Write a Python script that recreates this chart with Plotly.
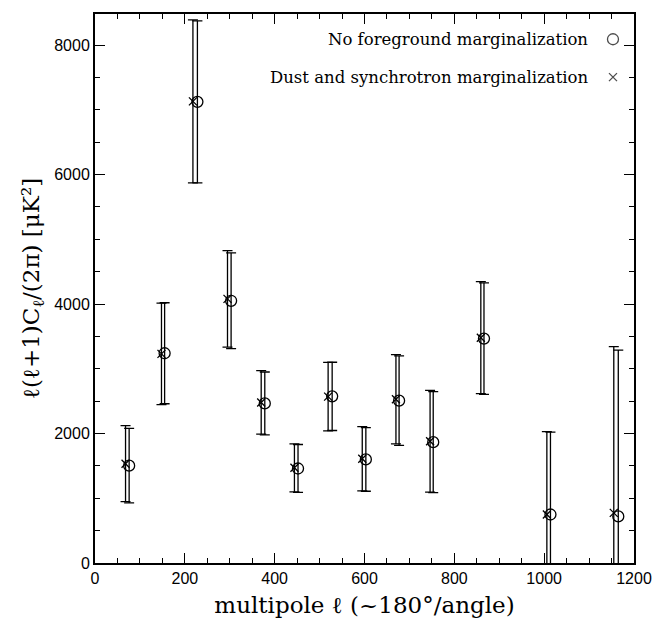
import plotly.graph_objects as go

# No foreground marginalization (circles)
ell_nofg = [76, 155, 228, 303, 378, 452, 528, 603, 677, 753, 866, 1014, 1165]
cl_nofg = [1503, 3240, 7123, 4050, 2465, 1460, 2574, 1600, 2508, 1866, 3466, 749, 720]
err_nofg = [575, 780, 1250, 740, 485, 370, 527, 492, 690, 780, 862, 1271, 2568]

# Dust and synchrotron marginalization (crosses)
ell_fg = [68, 148, 218, 295, 370, 444, 519, 595, 670, 746, 859, 1006, 1155]
cl_fg = [1534, 3230, 7130, 4080, 2480, 1470, 2570, 1610, 2530, 1880, 3480, 750, 774]
err_fg = [587, 785, 1260, 745, 490, 370, 530, 495, 690, 785, 865, 1280, 2569]

legend_labels = ["No foreground marginalization", "Dust and synchrotron marginalization"]
legend_symbols = ["circle-open", "x-thin-open"]
legend_sizes = [11, 8]
legend_y = [0.954, 0.885]

serif = "DejaVu Serif"
sans = "Liberation Sans"

fig = go.Figure()
fig.add_trace(go.Scatter(
    x=ell_fg, y=cl_fg, mode="markers",
    marker=dict(symbol="x-thin-open", size=8, line=dict(color="black", width=1.3), color="black"),
    error_y=dict(type="data", array=err_fg, visible=True, color="black", thickness=1.3, width=5),
    showlegend=False, cliponaxis=True,
))
fig.add_trace(go.Scatter(
    x=ell_nofg, y=cl_nofg, mode="markers",
    marker=dict(symbol="circle-open", size=11, line=dict(color="black", width=1.3), color="black"),
    error_y=dict(type="data", array=err_nofg, visible=True, color="black", thickness=1.3, width=5),
    showlegend=False, cliponaxis=True,
))

# legend key markers on an overlay axis spanning the plot area (0..1)
fig.add_trace(go.Scatter(
    x=[0.961, 0.961], y=legend_y, mode="markers", xaxis="x2", yaxis="y2",
    marker=dict(symbol=legend_symbols, size=legend_sizes, line=dict(color="black", width=1.3), color="black"),
    showlegend=False, hoverinfo="skip",
))

for lab, yy in zip(legend_labels, legend_y):
    fig.add_annotation(x=0.918, y=yy, xref="paper", yref="paper", text=lab,
                       showarrow=False, xanchor="right", yanchor="middle",
                       font=dict(family=serif, size=16.5, color="black"))

axis_common = dict(
    showline=True, linecolor="black", linewidth=2, mirror="ticks",
    ticks="inside", ticklen=10, tickwidth=1.3, tickcolor="black",
    showgrid=False, zeroline=False,
    tickfont=dict(family=sans, size=16, color="black"),
)

fig.update_xaxes(range=[0, 1200], dtick=200,
                 minor=dict(dtick=50, ticks="inside", ticklen=5, tickwidth=1.3, tickcolor="black"),
                 title=dict(text="multipole ℓ (~180°/angle)", font=dict(family=serif, size=23, color="black"), standoff=11),
                 **axis_common)
fig.update_yaxes(range=[0, 8480], dtick=2000,
                 minor=dict(dtick=500, ticks="inside", ticklen=5, tickwidth=1.3, tickcolor="black"),
                 title=dict(text="ℓ(ℓ+1)C<sub>ℓ</sub>/(2π) [μK²]", font=dict(family=serif, size=23, color="black"), standoff=8),
                 **axis_common)

fig.update_layout(
    width=672, height=630,
    margin=dict(l=95, r=38, t=12, b=67),
    paper_bgcolor="white", plot_bgcolor="white",
    showlegend=False,
    xaxis2=dict(overlaying="x", range=[0, 1], visible=False, fixedrange=True),
    yaxis2=dict(overlaying="y", range=[0, 1], visible=False, fixedrange=True),
)

fig.write_html("out.html")
